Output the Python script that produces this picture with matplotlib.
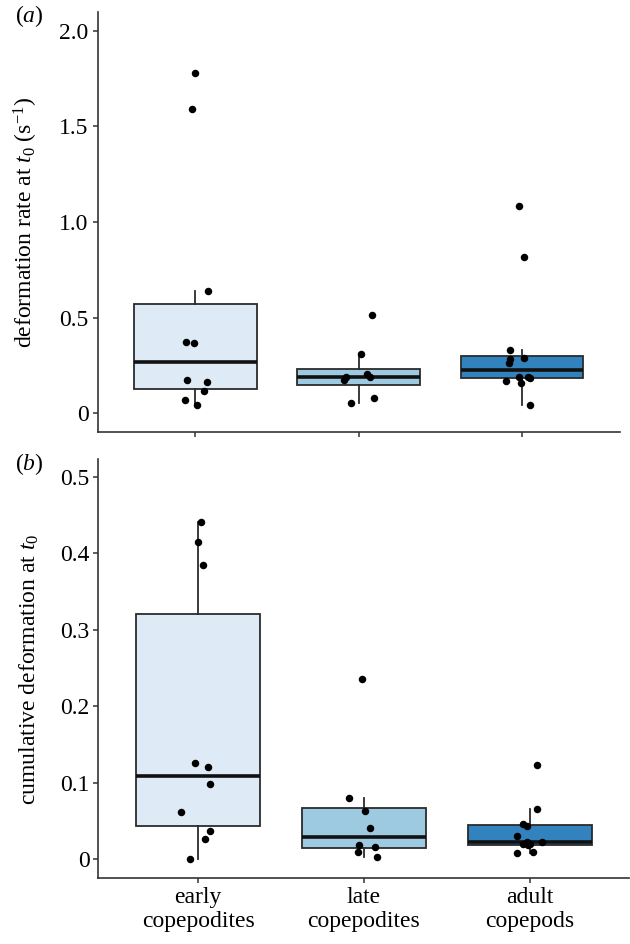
import matplotlib
matplotlib.use("Agg")
import matplotlib.pyplot as plt

plt.rcParams['font.family'] = ['Liberation Serif', 'DejaVu Serif']
plt.rcParams['mathtext.fontset'] = 'custom'
plt.rcParams['mathtext.rm'] = 'Liberation Serif'
plt.rcParams['mathtext.it'] = 'Liberation Serif:italic'

categories = ["early\ncopepodites", "late\ncopepodites", "adult\ncopepods"]
colors = ["#deebf7", "#9ecae1", "#3182bd"]

# panel (a): deformation rate at t0 (s^-1)
rate_early = [1.779, 1.591, 0.639, 0.375, 0.368, 0.172, 0.162, 0.118, 0.070, 0.042]
rate_late = [0.516, 0.308, 0.204, 0.188, 0.192, 0.174, 0.078, 0.052]
rate_adult = [1.085, 0.817, 0.331, 0.289, 0.282, 0.261, 0.192, 0.190, 0.186, 0.169, 0.160, 0.042]
jit_rate_early = [0.0, -0.019, 0.076, -0.057, -0.008, -0.053, 0.068, 0.055, -0.063, 0.011]
jit_rate_late = [0.080, 0.017, 0.049, 0.068, -0.080, -0.089, 0.093, -0.046]
jit_rate_adult = [-0.017, 0.013, -0.070, 0.011, -0.074, -0.078, -0.015, 0.038, 0.049, -0.095, -0.006, 0.053]

# panel (b): cumulative deformation at t0
cum_early = [0.4408, 0.4146, 0.3846, 0.1263, 0.1202, 0.0980, 0.0623, 0.0375, 0.0261, 0.0000]
cum_late = [0.2361, 0.0797, 0.0632, 0.0409, 0.0183, 0.0161, 0.0091, 0.0030]
cum_adult = [0.1233, 0.0653, 0.0466, 0.0440, 0.0305, 0.0231, 0.0226, 0.0200, 0.0196, 0.0183, 0.0100, 0.0078]
jit_cum_early = [0.017, 0.002, 0.031, -0.019, 0.060, 0.073, -0.102, 0.075, 0.042, -0.046]
jit_cum_late = [-0.012, -0.089, 0.004, 0.039, -0.029, 0.066, -0.035, 0.081]
jit_cum_adult = [0.046, 0.046, -0.042, -0.015, -0.075, 0.071, -0.015, 0.002, -0.039, -0.008, 0.019, -0.077]

yticks_a = [0, 0.5, 1.0, 1.5, 2.0]
yticklabels_a = ["0", "0.5", "1.0", "1.5", "2.0"]
yticks_b = [0, 0.1, 0.2, 0.3, 0.4, 0.5]
yticklabels_b = ["0", "0.1", "0.2", "0.3", "0.4", "0.5"]

fig = plt.figure(figsize=(6.3, 9.44), dpi=100)
ax_a = fig.add_axes([0.1548, 0.5420, 0.8289, 0.4456])
ax_b = fig.add_axes([0.1563, 0.0696, 0.8427, 0.4438])

edge = "#2b2b2b"
FS = 17


def draw(ax, groups, jitters, ylim, yticks, yticklabels, ylabel, tag, show_x):
    positions = [1, 2, 3]
    bp = ax.boxplot(groups, positions=positions, widths=0.75, patch_artist=True,
                    showfliers=False, showcaps=False, whis=1.5,
                    boxprops=dict(linewidth=1.3, edgecolor=edge),
                    whiskerprops=dict(linewidth=1.3, color=edge),
                    medianprops=dict(linewidth=2.6, color="#111111"),
                    zorder=2)
    for patch, c in zip(bp['boxes'], colors):
        patch.set_facecolor(c)
    for p, vals, jit in zip(positions, groups, jitters):
        xs = [p + j for j in jit]
        ax.plot(xs, vals, 'o', color='black', markersize=5.4, zorder=3,
                markeredgewidth=0)
    ax.set_xlim(0.4, 3.6)
    ax.set_ylim(*ylim)
    ax.set_yticks(yticks)
    ax.set_yticklabels(yticklabels, fontsize=FS)
    ax.set_xticks(positions)
    if show_x:
        ax.set_xticklabels(categories, fontsize=FS, linespacing=1.15)
    else:
        ax.set_xticklabels([])
    for s in ['top', 'right']:
        ax.spines[s].set_visible(False)
    for s in ['left', 'bottom']:
        ax.spines[s].set_color("#333333")
        ax.spines[s].set_linewidth(1.2)
    ax.tick_params(direction='out', length=3.5, width=1.1, color="#333333",
                   pad=3, labelcolor='black')
    ax.set_ylabel(ylabel, fontsize=FS, labelpad=14)
    ax.text(-0.158, 0.99, tag, transform=ax.transAxes, fontsize=FS,
            ha='left', va='center')


draw(ax_a, [rate_early, rate_late, rate_adult],
     [jit_rate_early, jit_rate_late, jit_rate_adult],
     (-0.1, 2.1), yticks_a, yticklabels_a,
     r"deformation rate at $t_0$ (s$^{-1}$)", r"$(a)$", False)
draw(ax_b, [cum_early, cum_late, cum_adult],
     [jit_cum_early, jit_cum_late, jit_cum_adult],
     (-0.0248, 0.5226), yticks_b, yticklabels_b,
     r"cumulative deformation at $t_0$", r"$(b)$", True)

fig.savefig("out.png", dpi=100)
